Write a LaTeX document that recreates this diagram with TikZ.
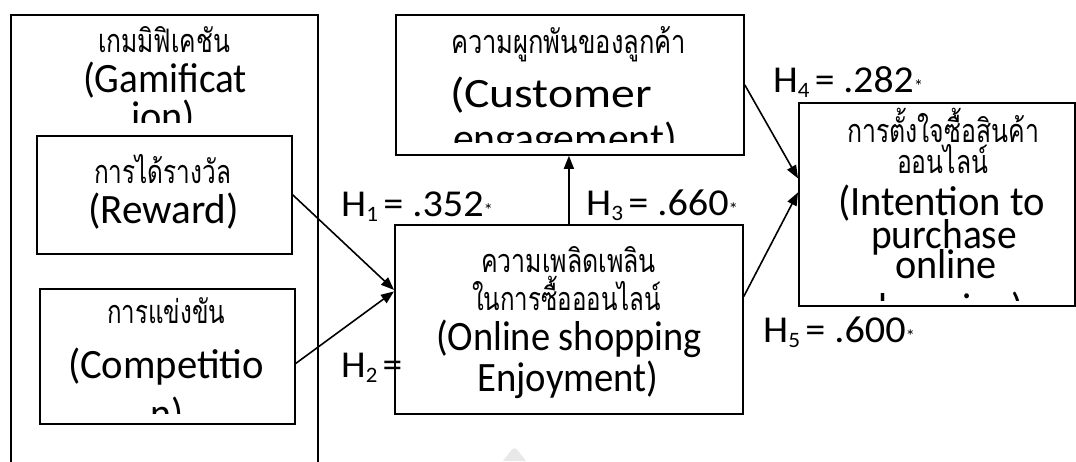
\documentclass[tikz,border=0pt]{standalone}
\usepackage{fontspec}
\setmainfont{Carlito}
\newfontfamily\thaifont[Script=Thai]{Loma}
\usetikzlibrary{arrows.meta}
\newcommand{\enf}{\fontsize{38}{40}\selectfont}
\newcommand{\thf}{\thaifont\fontsize{24}{28}\selectfont}
\newcommand{\sbs}[1]{\raisebox{-5pt}{\fontsize{22}{22}\selectfont #1}}
\newcommand{\smallast}{{\fontsize{18}{18}\selectfont *}}
\newlength{\fitlen}
\newcommand{\fitw}[3]{\settowidth{\fitlen}{#3}\pgfmathsetmacro{\fitsx}{#1/\fitlen}\scalebox{\fitsx}[#2]{#3}}
\tikzset{
  box/.style={draw, line width=1.8pt, rectangle, anchor=north west, inner sep=0pt},
  txt/.style={anchor=base, inner sep=0pt, font=\enf},
  thtxt/.style={anchor=base, inner sep=0pt, font=\thf},
  lbl/.style={anchor=base west, inner sep=0pt, font=\enf},
  conn/.style={line width=1.6pt, -{Triangle[length=13pt,width=10pt]}}
}
\begin{document}
\begin{tikzpicture}[x=1pt,y=-1pt]
\useasboundingbox (0,0) rectangle (1076,461);
\clip (0,0) rectangle (1076,461);
% boxes
\node[box, minimum width=307pt, minimum height=470pt] (gam) at (10,14) {};
\node[box, minimum width=255pt, minimum height=118pt] (rew) at (36,135) {};
\node[box, minimum width=255pt, minimum height=135pt] (comp) at (39,288) {};
\node[box, minimum width=348pt, minimum height=140pt] (cust) at (395,14) {};
\node[box, minimum width=348pt, minimum height=189pt] (enj) at (394,224) {};
\node[box, minimum width=276pt, minimum height=203pt] (intn) at (798,102) {};
% Gamification
\node[thtxt] (g1) at (164,52) {\fitw{132}{1.35}{เกมมิฟิเคชัน}};
\node[txt] (g2) at (165,92) {\fitw{164}{1.1}{(Gamificat}};
\begin{scope}
\clip (10,95) rectangle (317,122);
\node[txt] (g3) at (163,130) {\fitw{64}{1.1}{ion)}};
\end{scope}
% Reward
\node[thtxt] (r1) at (162.5,183) {\fitw{137}{1.35}{การได้รางวัล}};
\node[txt] (r2) at (163.5,223) {\fitw{151}{1.1}{(Reward)}};
% Competition
\node[thtxt] (c1) at (166,323) {\fitw{118}{1.35}{การแข่งขัน}};
\node[txt] (c2) at (166,378) {\fitw{196}{1.1}{(Competitio}};
\begin{scope}
\clip (39,390) rectangle (294,413);
\node[txt] (c3) at (167,427) {\fitw{33}{1.1}{n)}};
\end{scope}
% Customer engagement
\node[thtxt] (e1) at (568.5,53) {\fitw{235}{1.35}{ความผูกพันของลูกค้า}};
\node[txt] (e2) at (551,107) {\fitw{202}{1.1}{(Customer}};
\begin{scope}
\clip (395,115) rectangle (743,142);
\node[txt] (e3) at (565,152) {\fitw{224}{1.1}{engagement)}};
\end{scope}
% Enjoyment
\node[thtxt] (j1) at (568.5,272) {\fitw{175}{1.35}{ความเพลิดเพลิน}};
\node[thtxt] (j2) at (566.5,310) {\fitw{189}{1.35}{ในการซื้อออนไลน์}};
\node[txt] (j3) at (569,350) {\fitw{266}{1.1}{(Online shopping}};
\node[txt] (j4) at (568,391) {\fitw{181}{1.1}{Enjoyment)}};
% Intention
\node[thtxt] (i1) at (943,142) {\fitw{192}{1.35}{การตั้งใจซื้อสินค้า}};
\node[thtxt] (i2) at (942.5,173) {\fitw{91}{1.35}{ออนไลน์}};
\node[txt] (i3) at (941.5,215) {\fitw{207}{1.1}{(Intention to}};
\node[txt] (i4) at (944,248) {\fitw{146}{1.1}{purchase}};
\node[txt] (i5) at (946,278) {\fitw{102}{1.1}{online}};
\begin{scope}
\clip (798,285) rectangle (1074,300);
\node[txt] (i6) at (943,322) {\fitw{161}{1.1}{shopping)}};
\end{scope}
% connectors
\draw[conn] (rew.east) -- ([yshift=29.5pt]enj.west);
\draw[conn] ([yshift=-7pt]comp.east) -- ([yshift=28pt]enj.west);
\draw[conn] (enj.north) -- (enj.north |- cust.south);
\draw[conn] (cust.east) -- ([yshift=26pt]intn.west);
\draw[conn] ([yshift=23pt]enj.east) -- ([yshift=12pt]intn.west);
% labels
\node[lbl] (h1) at (341,216) {\fitw{152}{1}{H\sbs{1 }= .352\smallast}};
\node[lbl] (h3) at (586,215) {\fitw{152}{1}{H\sbs{3 }= .660\smallast}};
\node[lbl] (h4) at (773,92) {\fitw{150}{1}{H\sbs{4 }= .282\smallast}};
\node[lbl] (h5) at (763,342) {\fitw{152}{1}{H\sbs{5 }= .600\smallast}};
\node[lbl] (h2) at (341,377) {\fitw{61}{1}{H\sbs{2 }=}};
% faint watermark
\fill[gray!18] (503,461) -- (510,452) .. controls (513,447) and (516,447) .. (519,452) -- (526,461) -- cycle;
\end{tikzpicture}
\end{document}
